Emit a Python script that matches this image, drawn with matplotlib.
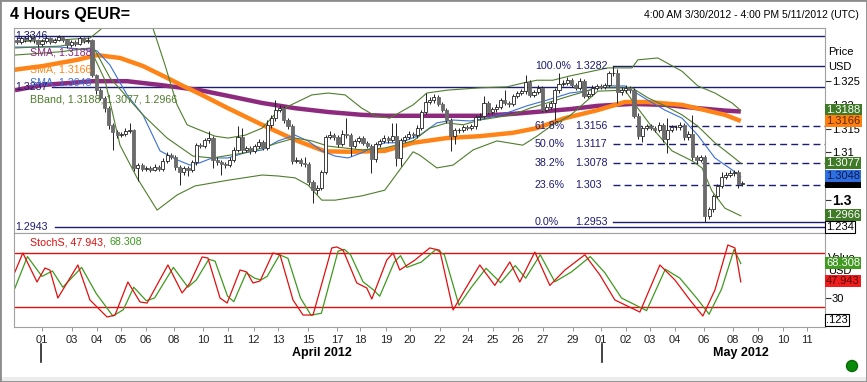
import numpy as np
import matplotlib.pyplot as plt
from matplotlib.patches import Rectangle, Ellipse
from matplotlib.transforms import blended_transform_factory as blend

plt.rcParams['font.family'] = ['Liberation Sans', 'DejaVu Sans']

# 4h candles, 3/30 .. 5/08 (bar index 0..174)
opens = [1.3337, 1.3333, 1.3341, 1.3337, 1.3345, 1.3337, 1.3328, 1.3335, 1.3341, 1.3333,
         1.3337, 1.3343, 1.3337, 1.3326, 1.3333, 1.3328, 1.3341, 1.3335, 1.3337, 1.3263,
         1.3231, 1.3215, 1.3193, 1.3158, 1.3143, 1.3136, 1.3139, 1.3145, 1.3147, 1.3067,
         1.3073, 1.3065, 1.3067, 1.3063, 1.3069, 1.3065, 1.3082, 1.3094, 1.3090, 1.3069,
         1.3058, 1.3067, 1.3063, 1.3079, 1.3115, 1.3113, 1.3126, 1.3130, 1.3084, 1.3079,
         1.3075, 1.3073, 1.3084, 1.3105, 1.3132, 1.3105, 1.3109, 1.3103, 1.3113, 1.3122,
         1.3109, 1.3158, 1.3172, 1.3189, 1.3193, 1.3168, 1.3155, 1.3082, 1.3084, 1.3077,
         1.3075, 1.3037, 1.3020, 1.3025, 1.3058, 1.3132, 1.3136, 1.3132, 1.3117, 1.3139,
         1.3136, 1.3113, 1.3124, 1.3130, 1.3120, 1.3113, 1.3086, 1.3117, 1.3124, 1.3130,
         1.3126, 1.3134, 1.3088, 1.3126, 1.3132, 1.3139, 1.3136, 1.3151, 1.3185, 1.3206,
         1.3210, 1.3217, 1.3202, 1.3189, 1.3168, 1.3134, 1.3147, 1.3147, 1.3153, 1.3151,
         1.3155, 1.3174, 1.3177, 1.3204, 1.3185, 1.3191, 1.3196, 1.3210, 1.3204, 1.3202,
         1.3219, 1.3225, 1.3229, 1.3248, 1.3221, 1.3227, 1.3236, 1.3189, 1.3196, 1.3204,
         1.3231, 1.3244, 1.3246, 1.3252, 1.3242, 1.3236, 1.3250, 1.3219, 1.3223, 1.3236,
         1.3240, 1.3238, 1.3242, 1.3267, 1.3267, 1.3227, 1.3231, 1.3236, 1.3231, 1.3177,
         1.3134, 1.3151, 1.3155, 1.3151, 1.3147, 1.3158, 1.3128, 1.3147, 1.3153, 1.3153,
         1.3158, 1.3132, 1.3139, 1.3090, 1.3084, 1.3090, 1.2966, 1.2980, 1.3008, 1.3029,
         1.3048, 1.3052, 1.3056, 1.3058, 1.3033]
highs = [1.3343, 1.3346, 1.3345, 1.3349, 1.3348, 1.3340, 1.3339, 1.3346, 1.3344, 1.3342,
         1.3347, 1.3346, 1.3340, 1.3337, 1.3336, 1.3346, 1.3344, 1.3343, 1.3340, 1.3266,
         1.3236, 1.3219, 1.3197, 1.3162, 1.3147, 1.3143, 1.3152, 1.3162, 1.3150, 1.3078,
         1.3077, 1.3072, 1.3071, 1.3075, 1.3074, 1.3088, 1.3100, 1.3099, 1.3094, 1.3073,
         1.3072, 1.3070, 1.3084, 1.3120, 1.3120, 1.3131, 1.3145, 1.3134, 1.3090, 1.3083,
         1.3080, 1.3089, 1.3111, 1.3155, 1.3151, 1.3114, 1.3113, 1.3118, 1.3128, 1.3126,
         1.3168, 1.3178, 1.3210, 1.3199, 1.3198, 1.3172, 1.3160, 1.3089, 1.3088, 1.3090,
         1.3079, 1.3041, 1.3031, 1.3063, 1.3136, 1.3145, 1.3140, 1.3136, 1.3147, 1.3172,
         1.3140, 1.3128, 1.3135, 1.3134, 1.3124, 1.3117, 1.3122, 1.3129, 1.3136, 1.3134,
         1.3162, 1.3162, 1.3131, 1.3137, 1.3144, 1.3143, 1.3157, 1.3190, 1.3225, 1.3216,
         1.3223, 1.3221, 1.3206, 1.3193, 1.3172, 1.3152, 1.3152, 1.3158, 1.3157, 1.3160,
         1.3179, 1.3182, 1.3219, 1.3208, 1.3196, 1.3201, 1.3215, 1.3231, 1.3208, 1.3224,
         1.3230, 1.3234, 1.3263, 1.3252, 1.3232, 1.3241, 1.3240, 1.3201, 1.3209, 1.3236,
         1.3267, 1.3252, 1.3258, 1.3257, 1.3247, 1.3256, 1.3255, 1.3229, 1.3242, 1.3245,
         1.3245, 1.3247, 1.3272, 1.3282, 1.3275, 1.3237, 1.3241, 1.3240, 1.3236, 1.3182,
         1.3156, 1.3160, 1.3160, 1.3155, 1.3163, 1.3162, 1.3172, 1.3158, 1.3158, 1.3163,
         1.3162, 1.3144, 1.3179, 1.3094, 1.3095, 1.3094, 1.2985, 1.3012, 1.3033, 1.3058,
         1.3058, 1.3062, 1.3063, 1.3063, 1.3040]
lows = [1.3328, 1.3329, 1.3332, 1.3333, 1.3331, 1.3322, 1.3325, 1.3331, 1.3329, 1.3330,
        1.3334, 1.3333, 1.3320, 1.3322, 1.3324, 1.3326, 1.3331, 1.3330, 1.3258, 1.3224,
        1.3210, 1.3186, 1.3150, 1.3105, 1.3130, 1.3132, 1.3135, 1.3140, 1.3060, 1.3039,
        1.3060, 1.3060, 1.3058, 1.3060, 1.3060, 1.3061, 1.3078, 1.3085, 1.3063, 1.3031,
        1.3053, 1.3050, 1.3058, 1.3074, 1.3108, 1.3108, 1.3120, 1.3067, 1.3073, 1.3052,
        1.3067, 1.3068, 1.3080, 1.3100, 1.3099, 1.3100, 1.3097, 1.3098, 1.3108, 1.3104,
        1.3104, 1.3152, 1.3167, 1.3185, 1.3162, 1.3150, 1.3076, 1.3078, 1.3072, 1.3068,
        1.3030, 1.2993, 1.3012, 1.3020, 1.3054, 1.3128, 1.3126, 1.3112, 1.3113, 1.3131,
        1.3092, 1.3108, 1.3119, 1.3115, 1.3108, 1.3056, 1.3080, 1.3112, 1.3119, 1.3120,
        1.3121, 1.3071, 1.3071, 1.3121, 1.3128, 1.3131, 1.3131, 1.3146, 1.3181, 1.3201,
        1.3205, 1.3197, 1.3184, 1.3162, 1.3103, 1.3117, 1.3141, 1.3142, 1.3146, 1.3146,
        1.3150, 1.3169, 1.3172, 1.3180, 1.3180, 1.3186, 1.3191, 1.3199, 1.3196, 1.3197,
        1.3214, 1.3220, 1.3224, 1.3216, 1.3216, 1.3222, 1.3184, 1.3184, 1.3191, 1.3168,
        1.3226, 1.3239, 1.3241, 1.3237, 1.3231, 1.3231, 1.3214, 1.3214, 1.3218, 1.3231,
        1.3233, 1.3233, 1.3237, 1.3261, 1.3204, 1.3221, 1.3226, 1.3225, 1.3172, 1.3128,
        1.3122, 1.3146, 1.3146, 1.3142, 1.3142, 1.3122, 1.3099, 1.3142, 1.3148, 1.3148,
        1.3126, 1.3126, 1.3084, 1.3078, 1.3079, 1.2953, 1.2960, 1.2974, 1.3003, 1.3024,
        1.3043, 1.3047, 1.3050, 1.3025, 1.3028]
closes = [1.3333, 1.3341, 1.3337, 1.3345, 1.3337, 1.3328, 1.3335, 1.3341, 1.3333, 1.3337,
          1.3343, 1.3337, 1.3326, 1.3333, 1.3328, 1.3341, 1.3335, 1.3337, 1.3263, 1.3231,
          1.3215, 1.3193, 1.3158, 1.3143, 1.3136, 1.3139, 1.3145, 1.3147, 1.3067, 1.3073,
          1.3065, 1.3067, 1.3063, 1.3069, 1.3065, 1.3082, 1.3094, 1.3090, 1.3069, 1.3058,
          1.3067, 1.3063, 1.3079, 1.3115, 1.3113, 1.3126, 1.3130, 1.3084, 1.3079, 1.3075,
          1.3073, 1.3084, 1.3105, 1.3132, 1.3105, 1.3109, 1.3103, 1.3113, 1.3122, 1.3109,
          1.3158, 1.3172, 1.3189, 1.3193, 1.3168, 1.3155, 1.3082, 1.3084, 1.3077, 1.3075,
          1.3037, 1.3020, 1.3025, 1.3058, 1.3132, 1.3136, 1.3132, 1.3117, 1.3139, 1.3136,
          1.3113, 1.3124, 1.3130, 1.3120, 1.3113, 1.3086, 1.3117, 1.3124, 1.3130, 1.3126,
          1.3134, 1.3088, 1.3126, 1.3132, 1.3139, 1.3136, 1.3151, 1.3185, 1.3206, 1.3210,
          1.3217, 1.3202, 1.3189, 1.3168, 1.3134, 1.3147, 1.3147, 1.3153, 1.3151, 1.3155,
          1.3174, 1.3177, 1.3204, 1.3185, 1.3191, 1.3196, 1.3210, 1.3204, 1.3202, 1.3219,
          1.3225, 1.3229, 1.3248, 1.3221, 1.3227, 1.3236, 1.3189, 1.3196, 1.3204, 1.3231,
          1.3244, 1.3246, 1.3252, 1.3242, 1.3236, 1.3250, 1.3219, 1.3223, 1.3236, 1.3240,
          1.3238, 1.3242, 1.3267, 1.3267, 1.3227, 1.3231, 1.3236, 1.3231, 1.3177, 1.3134,
          1.3151, 1.3155, 1.3151, 1.3147, 1.3158, 1.3128, 1.3147, 1.3153, 1.3153, 1.3158,
          1.3132, 1.3139, 1.3090, 1.3084, 1.3090, 1.2966, 1.2980, 1.3008, 1.3029, 1.3048,
          1.3052, 1.3056, 1.3058, 1.3033, 1.3035]

# indicator readings (bar index, value)
sma_long_x = [-0.5, 6.2, 18.2, 26.4, 34.3, 43.9, 50.6, 58.8, 66.7, 74.6, 82.7, 88.2, 103.1, 111.0,
              118.9, 127.1, 132.6, 139.3, 147.5, 155.4, 163.3, 169.8, 173.6]
sma_long_y = [1.3231, 1.3242, 1.3250, 1.3250, 1.3242, 1.3231, 1.3219, 1.3204, 1.3193, 1.3185,
              1.3179, 1.3177, 1.3177, 1.3177, 1.3181, 1.3187, 1.3191, 1.3198, 1.3202, 1.3200,
              1.3193, 1.3188, 1.3186]
sma_mid_x = [-0.7, 6.2, 14.4, 19.2, 24.7, 30.2, 36.0, 39.8, 43.9, 50.6, 58.8, 66.7, 73.9, 80.3,
             88.2, 95.0, 103.1, 111.0, 118.9, 124.7, 131.4, 139.3, 145.8, 151.3, 159.5, 165.0,
             169.8, 173.6]
sma_mid_y = [1.3274, 1.3282, 1.3295, 1.3305, 1.3299, 1.3282, 1.3257, 1.3240, 1.3223, 1.3193,
             1.3158, 1.3126, 1.3102, 1.3101, 1.3103, 1.3120, 1.3130, 1.3134, 1.3141, 1.3151,
             1.3172, 1.3189, 1.3206, 1.3206, 1.3200, 1.3189, 1.3179, 1.3166]
sma_fast_x = [-0.7, 10.3, 19.2, 22.3, 26.4, 30.2, 34.3, 38.4, 41.5, 43.9, 46.8, 50.6, 54.7, 58.8,
              62.6, 66.7, 69.8, 73.1, 76.3, 79.4, 82.7, 85.9, 88.2, 91.8, 96.6, 100.7, 104.6,
              108.6, 112.7, 117.5, 122.3, 127.1, 132.6, 136.2, 141.7, 145.8, 151.3, 155.4, 159.5,
              163.3, 167.4, 171.5, 173.6]
sma_fast_y = [1.3322, 1.3322, 1.3314, 1.3284, 1.3221, 1.3179, 1.3103, 1.3084, 1.3073, 1.3078,
              1.3088, 1.3088, 1.3099, 1.3105, 1.3124, 1.3136, 1.3124, 1.3103, 1.3092, 1.3088,
              1.3099, 1.3113, 1.3120, 1.3120, 1.3136, 1.3162, 1.3168, 1.3166, 1.3172, 1.3183,
              1.3198, 1.3210, 1.3225, 1.3229, 1.3240, 1.3240, 1.3210, 1.3189, 1.3172, 1.3136,
              1.3088, 1.3063, 1.3048]
bb_up_x = [-0.7, 10.3, 17.5, 19.9, 22.3, 27.1, 30.7, 32.6, 35.5, 38.4, 40.8, 42.7, 47.5, 50.6,
           54.7, 58.8, 62.6, 66.7, 70.7, 74.6, 78.7, 82.7, 85.9, 89.4, 95.0, 98.3, 103.1, 111.0,
           117.5, 121.3, 124.7, 128.5, 132.6, 141.7, 147.5, 148.9, 153.7, 159.5, 163.3, 167.4,
           171.5, 173.6]
bb_up_y = [1.3333, 1.3337, 1.3341, 1.3358, 1.3379, 1.3411, 1.3390, 1.3362, 1.3284, 1.3200,
           1.3158, 1.3151, 1.3134, 1.3130, 1.3136, 1.3151, 1.3187, 1.3204, 1.3221, 1.3225,
           1.3221, 1.3193, 1.3177, 1.3172, 1.3200, 1.3225, 1.3231, 1.3236, 1.3238, 1.3246,
           1.3252, 1.3252, 1.3261, 1.3278, 1.3278, 1.3295, 1.3299, 1.3271, 1.3240, 1.3225,
           1.3204, 1.3188]
bb_mid_x = [-0.7, 10.3, 17.5, 22.3, 30.2, 36.0, 42.2, 46.8, 54.7, 58.8, 62.6, 66.7, 70.7, 74.6,
            78.7, 82.7, 88.2, 95.0, 99.0, 103.1, 107.0, 111.0, 118.9, 123.0, 127.1, 132.6,
            139.3, 147.5, 151.3, 155.4, 159.5, 163.3, 167.4, 171.5, 173.6]
bb_mid_y = [1.3320, 1.3324, 1.3335, 1.3257, 1.3179, 1.3130, 1.3092, 1.3088, 1.3099, 1.3109,
            1.3120, 1.3130, 1.3124, 1.3113, 1.3109, 1.3105, 1.3109, 1.3124, 1.3151, 1.3162,
            1.3158, 1.3168, 1.3179, 1.3193, 1.3204, 1.3219, 1.3236, 1.3236, 1.3215, 1.3198,
            1.3179, 1.3155, 1.3120, 1.3092, 1.3077]
bb_lo_x = [-0.7, 10.3, 17.5, 21.1, 24.7, 28.8, 33.6, 38.4, 42.7, 50.6, 58.8, 62.6, 66.7, 69.8,
           73.1, 76.3, 82.7, 88.2, 91.8, 95.0, 96.6, 100.7, 104.6, 109.4, 115.1, 121.3, 124.7,
           128.5, 132.6, 139.3, 145.8, 148.9, 153.0, 157.1, 161.9, 164.3, 166.7, 169.8, 173.6]
bb_lo_y = [1.3305, 1.3312, 1.3320, 1.3252, 1.3115, 1.3046, 1.2978, 1.3010, 1.3029, 1.3041,
           1.3052, 1.3050, 1.3046, 1.3031, 1.2999, 1.2999, 1.3008, 1.3020, 1.3063, 1.3101,
           1.3094, 1.3067, 1.3073, 1.3105, 1.3124, 1.3115, 1.3134, 1.3158, 1.3177, 1.3229,
           1.3231, 1.3193, 1.3145, 1.3103, 1.3082, 1.3067, 1.3018, 1.2982, 1.2966]

stoch_k_x = [-0.5, 1.4, 4.8, 6.7, 7.9, 9.8, 14.6, 17.5, 21.6, 23.5, 26.6, 29.5, 31.2, 36.2, 39.6,
             41.5, 44.4, 45.8, 48.7, 50.4, 53.5, 55.1, 56.6, 58.3, 61.4, 63.1, 66.2, 68.6, 71.0,
             75.5, 76.7, 78.2, 81.5, 83.9, 85.1, 88.7, 90.2, 91.8, 95.4, 99.0, 101.4, 104.6,
             107.4, 111.0, 114.6, 118.2, 120.6, 124.2, 127.8, 131.4, 136.2, 139.8, 143.4, 149.4,
             154.2, 157.8, 161.4, 164.5, 167.4, 170.5, 172.2, 173.6]
stoch_k = [58.9, 80.0, 47.8, 63.3, 61.0, 30.0, 66.7, 27.8, 8.9, 11.0, 47.8, 25.6, 24.4, 66.7, 35.6,
           46.7, 75.6, 74.4, 30.0, 24.4, 61.1, 58.9, 46.7, 48.9, 80.0, 77.8, 27.8, 11.1, 11.1,
           85.6, 86.7, 83.3, 46.7, 41.1, 28.9, 72.2, 80.0, 61.1, 72.0, 85.6, 83.0, 16.7, 39.0,
           66.7, 44.0, 70.0, 47.8, 81.0, 44.0, 61.0, 78.0, 55.6, 27.8, 14.4, 66.7, 50.0, 27.8,
           10.0, 38.9, 88.9, 85.6, 47.9]
stoch_d_x = [-0.5, 2.5, 6.0, 8.5, 11.0, 15.5, 19.0, 23.0, 25.5, 28.0, 31.0, 33.0, 37.5, 41.0, 43.0,
             46.0, 47.5, 50.5, 52.0, 55.0, 57.0, 58.5, 60.0, 63.0, 65.0, 68.0, 70.5, 73.0, 77.0,
             78.5, 80.0, 83.0, 85.5, 87.0, 90.5, 92.0, 93.5, 97.0, 100.5, 102.5, 106.0, 109.0,
             112.5, 116.0, 119.5, 122.0, 125.5, 129.0, 133.0, 137.5, 141.0, 145.0, 151.0, 155.5,
             159.0, 163.0, 166.0, 169.0, 172.0, 173.6]
stoch_d = [41, 76, 54, 60, 42, 64, 35, 10, 17, 42, 27, 30, 64, 42, 50, 73, 71, 32, 26, 58, 52, 50,
           54, 78, 74, 30, 11, 13, 82, 84, 78, 48, 39, 32, 70, 77, 64, 70, 84, 78, 22, 42, 63, 47,
           66, 52, 78, 48, 59, 76, 58, 30, 16, 62, 52, 30, 12, 40, 84, 68.3]

fib_pct = ['100.0%', '61.8%', '50.0%', '38.2%', '23.6%', '0.0%']
fib_val = [1.3282, 1.3156, 1.3117, 1.3078, 1.3030, 1.2953]
level_lines = [1.3346, 1.3237, 1.2943]

day_pos = [6.0, 13.2, 19.2, 24.9, 30.9, 37.6, 44.6, 50.6, 56.8, 62.6, 69.8, 76.7, 82.3, 88.5,
           94.2, 101.4, 108.2, 114.1, 120.1, 126.1, 133.3, 140.0, 146.0, 151.8, 157.8, 164.7,
           171.7, 177.7, 183.7, 189.4]
day_lbl = ['01', '03', '04', '05', '06', '08', '10', '11', '12', '13', '15', '17', '18', '19',
           '20', '22', '24', '25', '26', '27', '29', '01', '02', '03', '04', '06', '08', '09',
           '10', '11']

W, H = 867, 382
def fx(x):
    return x / W
def fy(y):
    return 1 - y / H

NAVY = '#1c1c70'
FS = 7.7
fig = plt.figure(figsize=(8.67, 3.82), dpi=100)
ax = fig.add_axes([fx(14), fy(233), fx(825) - fx(14), fy(28) - fy(233)])
ax2 = fig.add_axes([fx(14), fy(327), fx(825) - fx(14), fy(233) - fy(327)], sharex=ax)

o = np.array(opens); h = np.array(highs); l = np.array(lows); c = np.array(closes)
idx = np.arange(len(c))
up = c >= o
bot = np.minimum(o, c)
hgt = np.maximum(np.abs(c - o), 0.00006)

# indicators
ax.plot(sma_long_x, sma_long_y, color='#8e2a7e', lw=3.2, zorder=2, solid_capstyle='butt')
ax.plot(sma_mid_x, sma_mid_y, color='#ff8418', lw=3.2, zorder=2, solid_capstyle='butt')
ax.plot(sma_fast_x, sma_fast_y, color='#3a6fd8', lw=0.8, zorder=2)
for bx, by in [(bb_up_x, bb_up_y), (bb_mid_x, bb_mid_y), (bb_lo_x, bb_lo_y)]:
    ax.plot(bx, by, color='#4f7d2c', lw=0.8, zorder=2)

# candles
ax.vlines(idx, l, h, color='#222222', lw=0.7, zorder=3)
ax.bar(idx[up], hgt[up], bottom=bot[up], width=0.75, facecolor='white',
       edgecolor='#222222', lw=0.6, zorder=4)
ax.bar(idx[~up], hgt[~up], bottom=bot[~up], width=0.75, facecolor='#6b6b6b',
       edgecolor='#6b6b6b', lw=0.6, zorder=4)

# horizontal levels
ax.axhline(level_lines[0], color=NAVY, lw=1, zorder=1)
ax.plot([8.5, 194], [level_lines[1]] * 2, color=NAVY, lw=1, zorder=1)
ax.plot([9.0, 194], [level_lines[2]] * 2, color=NAVY, lw=1, zorder=1)
for lv in level_lines:
    ax.text(-0.4, lv, f'{lv:.4f}', color=NAVY, fontsize=FS, va='center', zorder=6)

# fibonacci
for k, (pct, val) in enumerate(zip(fib_pct, fib_val)):
    ls = '-' if k in (0, len(fib_val) - 1) else (0, (5, 3))
    ax.plot([143, 194], [val, val], color=NAVY, lw=1, ls=ls, zorder=1)
    ax.text(124.2, val, pct, color=NAVY, fontsize=FS, va='center', zorder=6)
    ax.text(134.0, val, f'{val:g}', color=NAVY, fontsize=FS, va='center', zorder=6)

ax.set_xlim(-0.72, 193.8)
ax.set_ylim(1.29297, 1.33622)

# legend texts
ax.text(3.1, 1.3311, 'SMA, 1.3188', color='#8e2a7e', fontsize=FS, va='center', zorder=6)
ax.text(3.1, 1.3274, 'SMA, 1.3166', color='#ff8418', fontsize=FS, va='center', zorder=6)
ax.text(3.1, 1.3247, 'SMA, 1.3048', color='#3a6fd8', fontsize=FS, va='center', zorder=6)
ax.text(3.1, 1.3212, 'BBand, 1.3188, 1.3077, 1.2966', color='#4f7d2c', fontsize=FS,
        va='center', zorder=6)

# price axis on right
ax.yaxis.tick_right()
ax.set_yticks([1.30, 1.31, 1.315, 1.32, 1.325])
ax.set_yticklabels(['1.3', '1.31', '1.315', '1.32', '1.325'], fontsize=8)
ax.get_yticklabels()[0].set_fontweight('bold')
ax.get_yticklabels()[0].set_fontsize(10)
ax.tick_params(axis='y', length=4, width=0.8, pad=1, color='#333333')
ax.tick_params(axis='x', bottom=False, labelbottom=False)
for a in (ax, ax2):
    for s in a.spines.values():
        s.set_color('#a0a0a0')

# stochastic panel
ax2.axhline(80, color='#dd1111', lw=1)
ax2.axhline(20, color='#dd1111', lw=1)
ax2.plot(stoch_d_x, stoch_d, color='#3f9a1f', lw=0.9)
ax2.plot(stoch_k_x, stoch_k, color='#e01010', lw=0.9)
ax2.set_ylim(-2.2, 102.2)
ax2.yaxis.tick_right()
ax2.set_yticks([30])
ax2.set_yticklabels(['30'], fontsize=8)
ax2.tick_params(axis='y', length=4, width=0.8, pad=1, color='#333333')
ax2.set_xticks(day_pos)
ax2.set_xticklabels(day_lbl, fontsize=8, color='#222222')
ax2.tick_params(axis='x', length=3, width=0.6, pad=3, color='#888888')
ax2.text(3.1, 92, 'StochS, 47.943,', color='#e01010', fontsize=FS, va='center')
ax2.text(22.2, 92, '68.308', color='#3f9a1f', fontsize=FS, va='center')

# month labels
tb = blend(ax2.transData, fig.transFigure)
ax2.text(73.1, fy(353), 'April 2012', transform=tb, ha='center', va='center',
         fontsize=9, fontweight='bold')
ax2.text(173.6, fy(353), 'May 2012', transform=tb, ha='center', va='center',
         fontsize=9, fontweight='bold')
for mx in [5.8, 140.3]:
    ax2.plot([mx, mx], [fy(344), fy(362)], transform=tb, color='#222222', lw=1.2,
             clip_on=False)

# right-hand boxes
def box(y, s, fc, tc, ec='none'):
    fig.text(fx(826), fy(y), s, fontsize=8, color=tc, va='center', ha='left',
             bbox=dict(boxstyle='square,pad=0.12', fc=fc, ec=ec, lw=0.8))

fig.text(fx(828), fy(52), 'Price', fontsize=8, va='center')
fig.text(fx(828), fy(67), 'USD', fontsize=8, va='center')
box(110, '1.3188', '#3f7a26', 'white')
box(121, '1.3166', '#ff8010', '#5a2a00')
box(163, '1.3077', '#3f7a26', 'white')
box(182, '1.3035', 'black', 'black')
box(176, '1.3048', '#2f6fe0', '#0a1a50')
box(215, '1.2966', '#3f7a26', 'white')
box(227, '1.234', 'white', 'black', ec='black')
fig.text(fx(828), fy(258), 'Value', fontsize=8, va='center')
fig.text(fx(828), fy(271), 'USD', fontsize=8, va='center')
box(263, '68.308', '#3f9a1f', 'white')
box(281, '47.943', '#ee1c1c', '#5a0000')
box(320, '.123', 'white', 'black', ec='black')

# header
fig.text(fx(10), fy(14), '4 Hours QEUR=', fontsize=11.5, fontweight='bold', va='center')
fig.text(fx(859), fy(15), '4:00 AM 3/30/2012 - 4:00 PM 5/11/2012 (UTC)', fontsize=7.5,
         ha='right', va='center')

# frame, footer strip, status dot
fig.add_artist(Rectangle((0, 0), 1, fy(377), transform=fig.transFigure, fc='#ececec',
                         ec='none', zorder=-5))
fig.add_artist(Rectangle((0, 0), 1, 1, transform=fig.transFigure, fill=False,
                         ec='#8c8c8c', lw=2))
fig.add_artist(Ellipse((fx(852), fy(366)), 11 / W, 11 / H, transform=fig.transFigure,
                       fc='#0a8a0a', ec='#0a6a0a'))

fig.savefig('out.png', dpi=100)
